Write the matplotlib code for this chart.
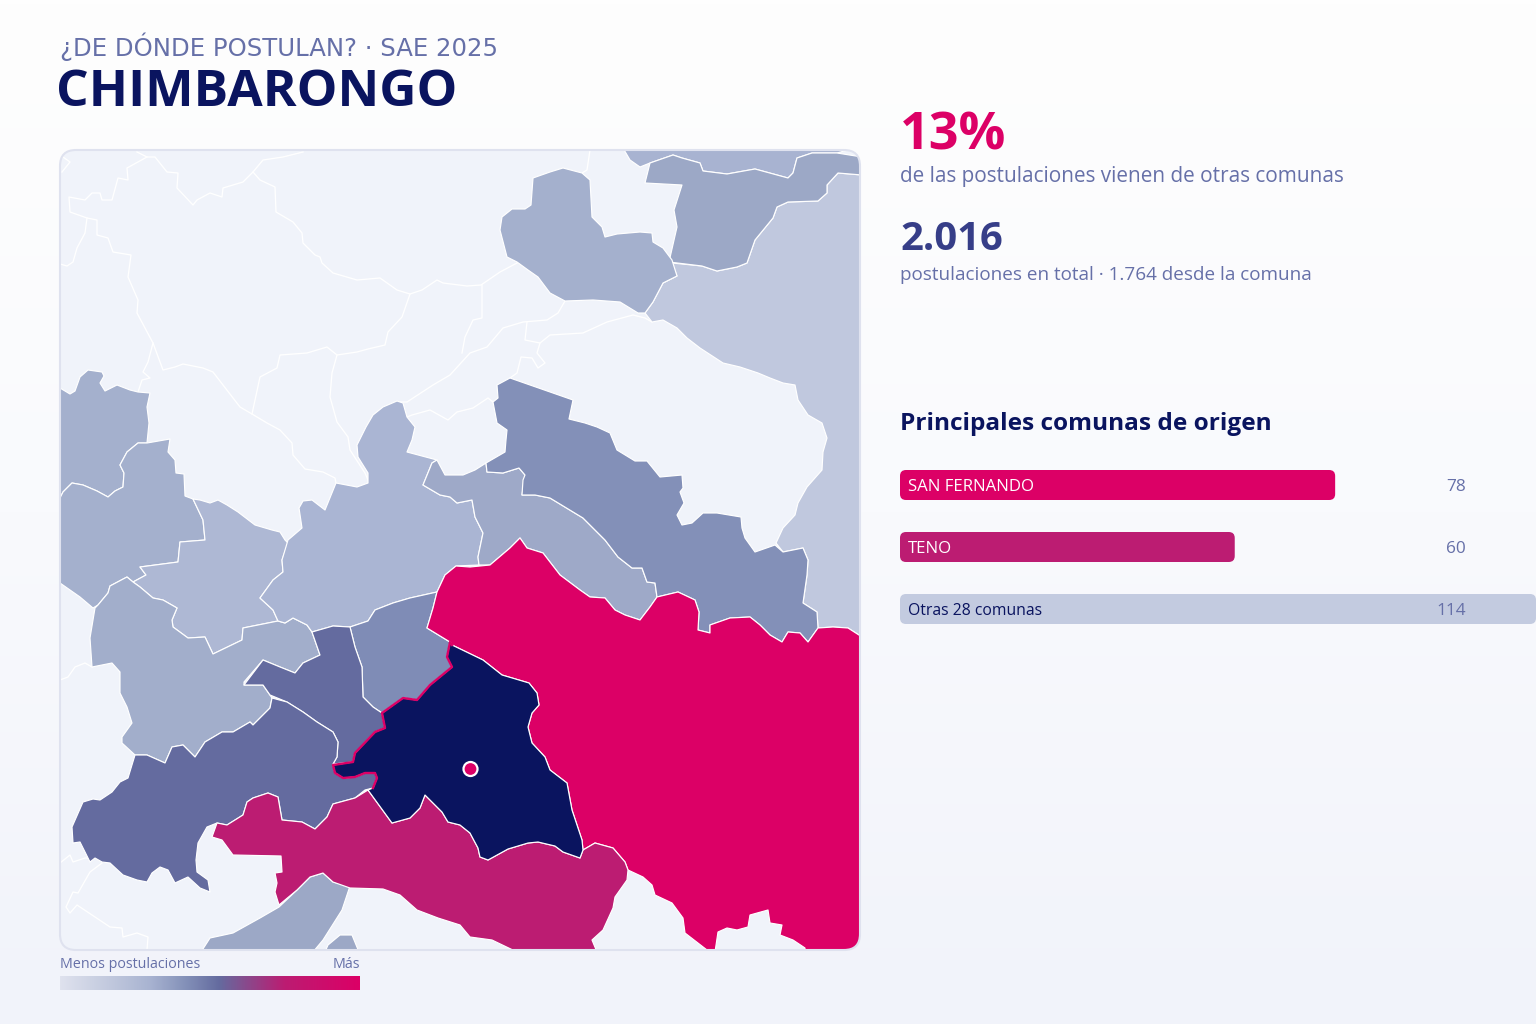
import numpy as np
import matplotlib
matplotlib.use("Agg")
import matplotlib.pyplot as plt
from matplotlib.patches import Polygon, FancyBboxPatch, Circle
from matplotlib.colors import LinearSegmentedColormap

plt.rcParams['font.family'] = ['Open Sans', 'DejaVu Sans']

# ---------- data ----------
bar_labels = ["SAN FERNANDO", "TENO", "Otras 28 comunas"]
bar_values = [78, 60, 114]
bar_colors = ["#dc0066", "#bc1c72", "#c3cbe0"]
bar_text_colors = ["#ffffff", "#ffffff", "#0a145f"]

R1 = [(60,388),(70,394),(75,391),(80,377),(88,370),(102,372),(104,376),(100,383),(105,391),(117,385),(130,390),(138,392),(150,393),(147,407),(149,423),(147,443),(138,443),(127,452),(120,465),(124,473),(123,487),(115,491),(108,497),(97,491),(83,485),(72,483),(63,492),(60,498)]
R2 = [(147,443),(170,439),(168,452),(175,460),(176,473),(184,474),(185,496),(193,499),(203,520),(205,540),(180,542),(178,562),(140,567),(146,575),(133,582),(127,577),(110,586),(108,593),(98,605),(93,608),(80,597),(60,583),(60,498),(63,492),(72,483),(83,485),(97,491),(108,497),(115,491),(123,487),(124,473),(120,465),(127,452),(138,443)]
R3 = [(193,499),(200,500),(210,503),(218,500),(227,505),(238,512),(255,525),(272,530),(280,532),(285,540),(288,543),(282,560),(283,572),(273,580),(260,598),(273,610),(278,621),(243,628),(242,640),(213,654),(205,637),(188,638),(173,627),(172,620),(177,608),(163,600),(153,598),(140,587),(133,582),(146,575),(140,567),(178,562),(180,542),(205,540),(203,520)]
R4 = [(133,582),(127,577),(110,586),(108,593),(98,605),(95,608),(90,638),(92,667),(112,663),(120,672),(120,693),(127,707),(132,723),(122,737),(122,743),(135,755),(147,755),(165,763),(172,747),(183,745),(195,757),(205,742),(222,732),(233,732),(250,722),(253,725),(270,708),(272,698),(263,685),(244,685),(244,682),(263,660),(280,667),(295,673),(303,663),(320,655),(312,632),(307,625),(293,618),(285,623),(278,621),(243,628),(242,640),(213,654),(205,637),(188,638),(173,627),(172,620),(177,608),(163,600),(153,598),(140,587)]
R5 = [(244,685),(263,660),(280,667),(295,673),(303,663),(320,655),(312,632),(333,626),(350,627),(355,647),(362,667),(363,697),(373,707),(382,713),(385,728),(375,732),(355,753),(353,762),(333,764),(337,757),(338,742),(333,732),(317,722),(303,712),(287,702),(270,695),(263,685)]
R6 = [(272,698),(287,702),(303,712),(317,722),(333,732),(338,742),(337,757),(333,764),(335,773),(343,778),(355,777),(365,773),(375,773),(377,778),(373,788),(365,790),(355,798),(333,804),(327,817),(315,829),(302,822),(282,820),(278,797),(268,793),(253,798),(247,802),(243,815),(227,825),(217,823),(207,827),(198,843),(196,860),(197,872),(208,880),(210,892),(200,888),(188,877),(175,883),(168,870),(160,867),(152,873),(147,882),(137,880),(123,875),(110,863),(102,862),(95,858),(90,862),(80,842),(73,843),(72,827),(83,802),(93,799),(100,800),(112,792),(120,782),(128,778),(135,755),(147,755),(165,763),(172,747),(183,745),(195,757),(205,742),(222,732),(233,732),(250,722),(253,725),(270,708)]
R7 = [(350,627),(368,621),(375,610),(393,603),(410,598),(437,592),(433,608),(427,628),(450,642),(447,657),(452,667),(430,685),(417,700),(403,698),(382,713),(373,707),(363,697),(362,667),(355,647)]
MAGENTA = [(427,628),(433,608),(437,592),(445,575),(456,566),(470,567),(490,565),(510,548),(520,538),(527,548),(543,553),(560,575),(580,590),(590,597),(605,598),(615,610),(625,615),(640,620),(650,607),(657,597),(678,592),(695,600),(699,612),(698,630),(710,633),(710,625),(730,618),(750,617),(760,625),(770,635),(782,642),(788,632),(800,633),(808,642),(818,628),(833,627),(848,628),(862,637),(862,952),(805,952),(805,948),(793,940),(780,935),(782,925),(770,923),(768,910),(750,915),(748,927),(737,930),(727,928),(718,932),(715,952),(707,950),(685,933),(683,918),(672,903),(655,895),(652,885),(643,877),(628,870),(625,862),(613,848),(595,843),(583,850),(582,840),(572,810),(567,783),(550,770),(545,757),(532,743),(528,727),(532,713),(539,705),(537,693),(529,683),(502,675),(483,660),(452,645),(450,642)]
NAVY = [(452,645),(483,660),(502,675),(529,683),(537,693),(539,705),(532,713),(528,727),(532,743),(545,757),(550,770),(567,783),(572,810),(582,840),(583,850),(580,858),(563,852),(555,846),(538,842),(528,843),(508,849),(488,860),(480,857),(478,848),(470,833),(460,825),(448,822),(442,812),(425,795),(420,808),(410,818),(392,823),(368,790),(373,788),(377,778),(375,773),(365,773),(355,777),(343,778),(335,773),(333,765),(353,762),(355,753),(375,732),(385,728),(382,713),(403,698),(417,700),(430,685),(452,667),(447,657),(450,642)]
NAVY_EDGE = [(452,645),(450,642),(447,657),(452,667),(430,685),(417,700),(403,698),(382,713),(385,728),(375,732),(355,753),(353,762),(333,765),(335,773),(343,778),(355,777),(365,773),(375,773),(377,778),(373,788)]
TENO = [(212,837),(217,823),(227,825),(243,815),(247,802),(253,798),(268,793),(278,797),(282,820),(302,822),(315,829),(327,817),(333,804),(355,798),(368,790),(392,823),(410,818),(420,808),(425,795),(442,812),(448,822),(460,825),(470,833),(478,848),(480,857),(488,860),(508,849),(528,843),(538,842),(555,846),(563,852),(580,858),(583,850),(595,843),(613,848),(625,862),(628,870),(627,880),(615,897),(613,908),(603,930),(592,940),(597,952),(517,952),(492,940),(470,937),(460,925),(438,918),(417,910),(400,895),(383,889),(350,888),(333,882),(323,873),(310,877),(297,890),(279,905),(275,892),(277,883),(275,873),(282,872),(281,856),(233,855),(222,840)]
SOUTH_A = [(201,952),(210,938),(233,933),(260,918),(279,907),(297,890),(310,877),(323,873),(333,882),(350,886),(342,910),(323,940),(313,952)]
SOUTH_B = [(325,952),(328,945),(340,935),(352,935),(359,952)]
EAST = [(862,175),(838,173),(827,185),(827,193),(818,201),(788,202),(777,207),(773,218),(755,240),(747,263),(737,267),(717,271),(702,266),(672,263),(677,276),(663,283),(653,302),(645,313),(652,322),(663,320),(677,328),(687,338),(700,348),(723,363),(740,367),(758,373),(770,378),(783,383),(795,385),(798,400),(808,415),(822,423),(827,438),(823,452),(822,470),(807,487),(798,503),(795,515),(783,528),(776,543),(783,552),(803,548),(808,560),(807,575),(803,603),(817,612),(818,628),(833,627),(848,628),(862,637)]
NE = [(650,163),(673,155),(682,158),(700,163),(703,171),(727,174),(755,169),(788,178),(793,173),(797,158),(812,153),(837,153),(862,157),(862,175),(838,173),(827,185),(827,193),(818,201),(788,202),(777,207),(773,218),(755,240),(747,263),(737,267),(717,271),(702,266),(669,262),(677,227),(674,210),(682,185),(645,183)]
TOP = [(623,148),(630,160),(640,167),(650,163),(673,155),(682,158),(700,163),(703,171),(727,174),(755,169),(788,178),(793,173),(797,158),(812,153),(837,153),(855,148)]
NORTH = [(533,178),(550,172),(563,168),(582,173),(590,180),(592,217),(602,227),(605,237),(617,234),(640,232),(652,233),(653,242),(663,248),(672,260),(677,276),(663,283),(653,302),(645,313),(638,313),(620,302),(593,300),(565,301),(550,293),(538,277),(528,270),(517,262),(507,257),(500,230),(502,217),(512,209),(525,209),(531,205)]
CENTER_E = [(497,385),(510,378),(573,400),(569,419),(585,423),(597,427),(610,433),(617,450),(635,461),(647,461),(660,477),(682,475),(683,488),(680,492),(684,503),(677,515),(682,525),(692,523),(703,513),(717,513),(741,517),(742,528),(745,538),(755,552),(775,545),(783,552),(803,548),(808,560),(807,575),(803,603),(817,612),(818,628),(808,642),(800,633),(788,632),(782,642),(770,635),(760,625),(750,617),(730,618),(710,625),(710,633),(698,630),(699,612),(695,600),(678,592),(657,597),(655,583),(647,582),(642,568),(632,568),(618,557),(605,540),(583,518),(550,498),(535,495),(522,495),(523,480),(525,475),(519,468),(503,473),(487,472),(486,463),(505,452),(506,440),(507,430),(497,423),(493,402),(498,398)]
STRIP = [(432,463),(437,460),(445,475),(463,475),(475,470),(486,463),(487,472),(503,473),(519,468),(525,475),(522,495),(535,495),(550,498),(583,518),(605,540),(618,557),(632,568),(642,568),(647,582),(655,583),(657,597),(650,607),(640,620),(625,615),(615,610),(605,598),(590,597),(580,590),(560,575),(543,553),(527,548),(520,538),(510,548),(490,565),(479,565),(478,557),(483,533),(475,517),(472,500),(457,503),(450,497),(440,495),(423,485)]
CENTER = [(397,401),(383,407),(373,415),(366,427),(357,445),(358,457),(368,473),(368,483),(357,487),(336,483),(325,510),(312,500),(303,501),(299,508),(302,528),(288,540),(282,560),(283,572),(273,580),(260,598),(273,610),(278,621),(285,623),(293,618),(307,625),(312,632),(333,626),(350,627),(368,621),(375,610),(393,603),(410,598),(437,592),(445,575),(456,566),(479,565),(478,557),(483,533),(475,517),(472,500),(457,503),(450,497),(440,495),(423,485),(432,463),(437,460),(407,452),(412,440),(415,427),(407,417),(403,403)]

regions = [
    (EAST, "#c0c8de"), (TOP, "#a8b3d1"), (NE, "#9ca8c6"), (NORTH, "#a4b0cd"),
    (R1, "#a4b0cd"), (R2, "#a4b0cd"), (R3, "#aeb8d4"), (R4, "#a2aecb"),
    (CENTER, "#aab5d3"), (STRIP, "#9ea9c8"), (CENTER_E, "#8390b8"),
    (R7, "#7f8cb6"), (R5, "#646b9f"), (R6, "#646b9f"),
    (SOUTH_A, "#9ca8c6"), (SOUTH_B, "#9ca8c6"),
    (MAGENTA, "#dc0066"), (TENO, "#bc1c72"), (NAVY, "#0a145f"),
]

borders = [
    [(137,152),(147,157),(155,157),(167,172),(178,173),(177,188),(193,205),(197,200),(210,193),(222,197),(223,188),(243,182),(253,172),(263,160),(283,157),(303,152)],
    [(147,157),(127,168),(128,180),(118,178),(112,200),(102,200),(100,193),(92,193),(85,200),(69,197),(70,212),(87,218),(97,220),(97,235),(108,238),(113,252),(131,255),(128,277),(138,300),(137,313),(153,343),(163,370),(175,367),(183,364),(203,368),(213,372),(223,385),(240,407),(252,414),(267,423),(280,430),(292,443),(293,455),(305,469),(323,472),(335,478),(336,483)],
    [(253,172),(260,180),(275,187),(276,212),(293,222),(302,233),(303,243),(315,255),(320,257),(322,263),(333,273),(357,280),(380,278),(397,290),(410,294),(422,290),(437,280),(443,283),(467,286),(481,285),(500,272),(517,263)],
    [(410,294),(402,317),(388,332),(385,345),(368,349),(357,352),(337,355),(327,347),(307,353),(280,355),(277,368),(260,377),(252,414)],
    [(337,355),(332,373),(330,397),(337,422),(348,437),(350,450),(365,473),(368,480)],
    [(398,402),(407,402),(433,385),(450,375),(470,353),(487,347),(503,328),(523,322),(547,320),(558,313),(565,301)],
    [(462,353),(465,337),(473,320),(482,318),(482,285)],
    [(527,322),(525,340),(540,343),(550,335),(583,333),(607,322),(633,315),(645,318),(652,322)],
    [(540,343),(537,353),(545,363),(538,368),(532,358),(521,357),(517,373),(510,378)],
    [(407,417),(412,415),(430,410),(448,420),(457,412),(473,408),(488,398),(493,402)],
    [(590,150),(587,170),(582,173)],
    [(62,172),(70,162),(63,157)],
    [(87,218),(85,233),(77,248),(73,262),(67,266),(60,264)],
    [(153,343),(148,362),(143,372),(150,378),(142,380),(138,392)],
    [(60,680),(68,677),(75,667),(85,663),(92,667)],
    [(60,863),(70,855),(73,862),(85,858),(95,858)],
    [(102,863),(90,872),(78,893),(73,892),(66,907),(70,913),(77,905),(110,927),(122,928),(123,937),(137,933),(148,937),(147,950)],
]

marker_xy = (470.5, 769)
ramp_stops = [0.0, 0.15, 0.30, 0.42, 0.53, 0.75, 1.0]
ramp_colors = ["#dfe2ee", "#c4cbdf", "#a8b3d1", "#8390b8", "#646b9f", "#bc1c72", "#dc0066"]

# ---------- figure ----------
W, H = 1536, 1024
fig = plt.figure(figsize=(W/100, H/100), dpi=100)
px = lambda v: v * 0.72

bg = fig.add_axes([0, 0, 1, 1])
bg_cmap = LinearSegmentedColormap.from_list("bg", ["#fefefe", "#f9fafd", "#f1f3fa"])
bg.imshow(np.linspace(0, 1, 256).reshape(-1, 1), cmap=bg_cmap, aspect="auto",
          extent=(0, W, H, 0), zorder=0)
bg.set_xlim(0, W); bg.set_ylim(H, 0); bg.axis("off")

frame = FancyBboxPatch((60, 150), 800, 800, boxstyle="round,pad=0,rounding_size=16",
                       fc="#f0f3fa", ec="none", zorder=1)
bg.add_patch(frame)
for line in borders:
    xs, ys = zip(*line)
    l, = bg.plot(xs, ys, color="white", lw=0.95, zorder=2, solid_joinstyle="round")
    l.set_clip_path(frame)
for i, (pts, col) in enumerate(regions):
    p = Polygon(pts, closed=True, fc=col, ec="white", lw=0.85, zorder=3 + i * 0.01,
                joinstyle="round")
    bg.add_patch(p)
    p.set_clip_path(frame)
xs, ys = zip(*NAVY_EDGE)
l, = bg.plot(xs, ys, color="#dc0066", lw=1.7, zorder=4, solid_joinstyle="round")
l.set_clip_path(frame)
bg.add_patch(FancyBboxPatch((60, 150), 800, 800, boxstyle="round,pad=0,rounding_size=16",
                            fc="none", ec="#dfe2ef", lw=1.5, zorder=5))
bg.add_patch(Circle(marker_xy, 7, fc="#dc0066", ec="white", lw=1.6, zorder=6))

# colour ramp legend
leg = fig.add_axes([60/W, 1 - 990/H, 300/W, 14/H])
leg.imshow(np.linspace(0, 1, 256).reshape(1, -1), aspect="auto",
           cmap=LinearSegmentedColormap.from_list("ramp", list(zip(ramp_stops, ramp_colors))))
leg.axis("off")

# bars: x in postulaciones, y in pixels
bar_y = [470, 532, 594]
label_sizes = [16.7, 16.7, 15.8]
bx = fig.add_axes([900/W, 1 - 640/H, 636/W, 180/H])
bx.set_xlim(0, max(bar_values)); bx.set_ylim(640, 460); bx.axis("off")
aspect = 636 / max(bar_values)
for y, v, c in zip(bar_y, bar_values, bar_colors):
    bx.add_patch(FancyBboxPatch((0, y), v, 30, boxstyle=f"round,pad=0,rounding_size={6/aspect}",
                                mutation_aspect=aspect, fc=c, ec="none", zorder=2))
for y, v, lab, tc, ls in zip(bar_y, bar_values, bar_labels, bar_text_colors, label_sizes):
    fig.text(1466/W, 1 - (y + 15)/H, str(v), color="#6670a8", fontsize=px(17.3),
             va="center_baseline", ha="right", zorder=9)
    fig.text(908/W, 1 - (y + 15)/H, lab, color=tc, fontsize=px(ls),
             va="center_baseline", ha="left", zorder=9)

# text block
def T(x, y, s, size, color, weight="normal", ha="left", family=None):
    fig.text(x/W, 1 - y/H, s, fontsize=px(size), color=color, fontweight=weight,
             ha=ha, va="baseline", zorder=10, family=family or ['Open Sans', 'DejaVu Sans'])

T(60, 56, "¿DE DÓNDE POSTULAN? · SAE 2025", 24.4, "#6670a8", family=['DejaVu Sans'])
T(56, 106, "CHIMBARONGO", 51.4, "#0a145f", "bold")
T(900, 150, "13%", 52, "#dc0066", "bold")
T(900, 182, "de las postulaciones vienen de otras comunas", 20.8, "#6670a8")
T(900, 250, "2.016", 40, "#363e88", "bold")
T(900, 280, "postulaciones en total · 1.764 desde la comuna", 18.9, "#6670a8")
T(900, 430, "Principales comunas de origen", 24.4, "#0a145f", "bold")
T(60, 968, "Menos postulaciones", 14.3, "#6670a8")
T(360, 968, "Más", 14.3, "#6670a8", ha="right")

fig.savefig("out.png", dpi=100)
